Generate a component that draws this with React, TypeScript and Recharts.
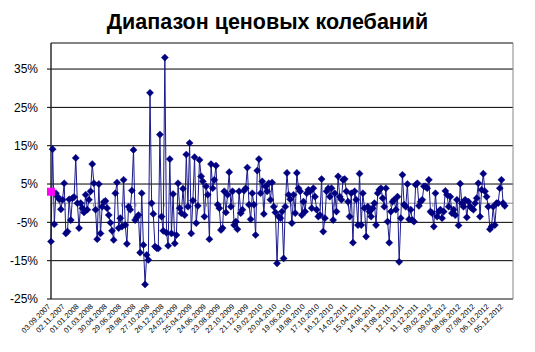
import { LineChart, Line, XAxis, YAxis, CartesianGrid, ReferenceLine, ReferenceArea } from 'recharts';

// weekly price range, %, starting 03.09.2007
const weeklyRange = [
  -10.0, 14.1, -5.5, 2.6, 1.7, 1.0, -1.6, 0.9, 5.2, -7.9, -7.4, 1.0, -4.4, 1.3, 1.6, 11.8, 0, -6.5, 0, -1.3,
  -2.4, 2.2, -1.7, 0.9, 3.1, 10.2, 5.2, -1.7, -9.4, 5.0, -7.9, -0.9, 0.3, 0.6, -1.3, -3.1, -5.1, -7.2, -9.6, 2.6,
  5.4, -6.5, -3.9, -6.1, 6.1, -5.7, -10.6, -0.9, -1.7, 3.3, 13.9, -4.4, -3.7, -3.1, -12.9, 2.6, -10.9, -21.2, -13.5, -14.8,
  28.8, 0, -2.8, -11.3, -11.7, -11.8, 17.9, -3.5, -7.2, 38.0,
  -7.7, -11.1, 11.5, -7.9, 2.4, -10.5, -8.3, 5.2, -1.3, -2.6, 3.8, -3.1, 12.7, -0.9, 15.7, -7.9, 0.7, 12.0, -5.2, -0.7,
  11.3, 7.0, 5.7, -3.5, 4.4, 2.2, -9.4, 10.2, 3.9, 6.1, 9.8, -0.4, -1.3, -7.0, -6.5, 3.1, -2.4, 2.2, 8.1, -0.9,
  3.1, -5.7, -4.8, -6.8, 3.1, -2.6, -1.7, 3.3, 3.9, 9.3, -0.4, -4.2, 2.6, -0.4, -8.3, 8.5, 11.5, 2.6, 5.7, -2.8,
  4.4, 3.1, 5.2, 0.9, 5.4, -0.9, -2.4,
  -15.7, -3.5, -3.9, -2.2, -14.4, -0.9, 7.9, 2.2, 1.0, -5.2, 2.2, -2.6, 7.9, 3.9, 3.1, -3.1, 0.4, -2.2, 2.6, 3.5,
  3.1, -1.3, 3.9, 1.7, -1.7, -3.5, -3.1, 6.3, -7.4, -3.9, 3.1, 3.9, 1.7, 3.9, -4.4, 2.6, -2.2, 7.0, 1.7, 0.9,
  6.1, 6.3, 3.1, 0.4, -3.5, 2.6, -10.3, 3.1, 0.9, -5.7, 7.7, -5.7, 2.6, -1.3, -8.7, -0.9, -2.2, -3.5, -1.3, 0,
  -5.7, 2.6, 3.5, 3.9, 1.3, -0.9, 3.9, -4.8, -10.3, -2.2, 0.4, 0.9,
  -1.7, 1.7, -15.3, -3.9, 7.4, -0.4, -0.9, 5.0, -4.2, -1.7, -4.4, -4.8, 4.8, 5.2, -0.7, 0.4, 0.9, 4.4, 4.4, 3.9,
  6.1, -2.2, -2.6, -6.1, 2.6, -3.5, -2.2, -1.7, -3.9, -2.2, 3.2, 2.2, -0.9, 1.7, -2.6, -1.7, -3.1, 0.9, -5.8, 5.1,
  0, -0.9, 0.9, -3.7, 0.4, -0.9, -1.3, -1.7, 0, 1.3, 5.2, -3.5, 3.5, 7.7, 3.1, 1.7, -0.9, -6.8, -6.1, -0.9,
  -5.7, 0, 0, 3.9, 6.1, 0, -0.7,
];

// separate single-point series (pink square)
const startValue = [3.0];

const tickDays = [
  0, 60, 120, 180, 240, 300, 360, 420, 480, 540, 600, 660, 720, 780, 840, 900, 960,
  1020, 1080, 1140, 1200, 1260, 1320, 1380, 1440, 1500, 1560, 1620, 1680, 1740, 1800, 1860, 1920,
];
const tickLabels = [
  '03.09.2007', '02.11.2007', '01.01.2008', '01.03.2008', '30.04.2008', '29.06.2008', '28.08.2008',
  '27.10.2008', '26.12.2008', '24.02.2009', '25.04.2009', '24.06.2009', '23.08.2009', '22.10.2009',
  '21.12.2009', '19.02.2010', '20.04.2010', '19.06.2010', '18.08.2010', '17.10.2010', '16.12.2010',
  '14.02.2011', '15.04.2011', '14.06.2011', '13.08.2011', '12.10.2011', '11.12.2011', '09.02.2012',
  '09.04.2012', '08.06.2012', '07.08.2012', '06.10.2012', '05.12.2012',
];
const yTicks = [-25, -15, -5, 5, 15, 25, 35];

const data = weeklyRange.map((v, i) => ({ day: i * 7, v }));
const startData = startValue.map((m, i) => ({ day: i * 7, m }));

const FONT = '"Liberation Sans", Arial, sans-serif';

const Diamond = (p: any) => {
  const { cx, cy, index } = p;
  if (cx == null || cy == null) return <g key={index} />;
  const r = 3.6;
  return (
    <path
      key={index}
      d={`M${cx},${cy - r}L${cx + r},${cy}L${cx},${cy + r}L${cx - r},${cy}Z`}
      fill="#000080"
      stroke="#000080"
      strokeWidth={0.4}
    />
  );
};

const Square = (p: any) => {
  const { cx, cy, index } = p;
  if (cx == null || cy == null) return <g key={index} />;
  return <rect key={index} x={cx - 3.5} y={cy - 3.5} width={7} height={7} fill="#ff00ff" stroke="#ff00ff" />;
};

const DateTick = (p: any) => {
  const { x, y, index } = p;
  return (
    <text
      x={x}
      y={y}
      transform={`rotate(-45, ${x}, ${y})`}
      textAnchor="end"
      fontSize={7.5}
      fontFamily={FONT}
      fill="#000"
      stroke="none"
    >
      {tickLabels[index]}
    </text>
  );
};

export default function App() {
  return (
    <div style={{ position: 'absolute', left: 0, top: 0, width: 535, height: 352, background: '#fff' }}>
      <div
        style={{
          position: 'absolute',
          left: 0,
          top: 10.5,
          width: 535,
          textAlign: 'center',
          fontFamily: FONT,
          fontWeight: 'bold',
          fontSize: 21.5,
          lineHeight: '22px',
          color: '#000',
        }}
      >
        Диапазон ценовых колебаний
      </div>
      <LineChart width={535} height={352} margin={{ top: 43, right: 22, bottom: 0, left: 0 }}>
        <CartesianGrid vertical={false} stroke="#000" strokeWidth={1} />
        <ReferenceArea x1={0} x2={1960} y1={-25} y2={41.8} fill="none" stroke="#868686" strokeWidth={1} ifOverflow="visible" />
        <XAxis
          type="number"
          dataKey="day"
          domain={[0, 1960]}
          ticks={tickDays}
          interval={0}
          height={53}
          axisLine={{ stroke: '#868686' }}
          tickLine={false}
          tickSize={0}
          tickMargin={8}
          tick={<DateTick />}
        />
        <YAxis
          type="number"
          domain={[-25, 41.8]}
          ticks={yTicks}
          interval={0}
          width={51}
          axisLine={{ stroke: '#000' }}
          tickLine={{ stroke: '#000' }}
          tickSize={4}
          tickMargin={9}
          tickFormatter={(v: number) => `${v}%`}
          tick={{ fill: '#000', fontSize: 12, fontFamily: FONT }}
        />
        <ReferenceLine y={0} stroke="#868686" strokeWidth={1} />
        {tickDays.map((d) => (
          <ReferenceLine
            key={d}
            segment={[{ x: d, y: 0 }, { x: d, y: -0.9 }]}
            stroke="#868686"
          />
        ))}
        <Line
          data={data}
          dataKey="v"
          type="linear"
          stroke="#1a1a8c"
          strokeWidth={1}
          dot={Diamond}
          activeDot={false}
          isAnimationActive={false}
        />
        <Line
          data={startData}
          dataKey="m"
          type="linear"
          stroke="#ff00ff"
          dot={Square}
          activeDot={false}
          isAnimationActive={false}
        />
      </LineChart>
    </div>
  );
}
